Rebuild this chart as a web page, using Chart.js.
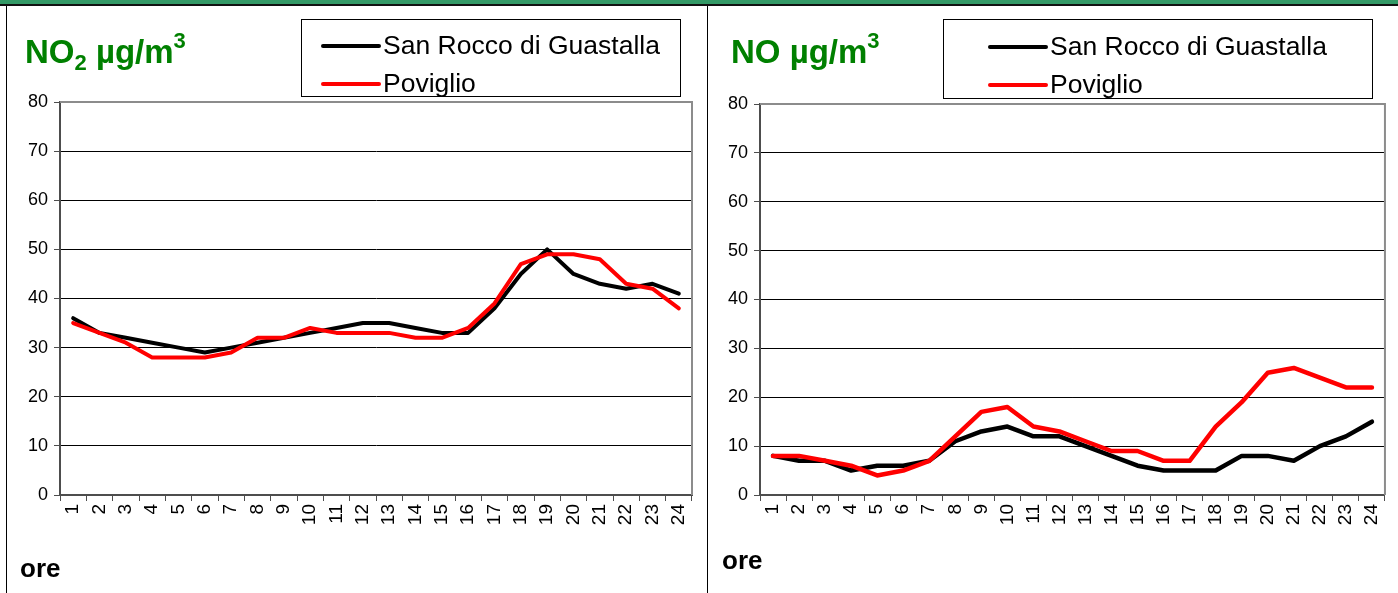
<!DOCTYPE html>
<html>
<head>
<meta charset="utf-8">
<script src="https://cdn.jsdelivr.net/npm/chart.js@4.4.1/dist/chart.umd.min.js"></script>
<style>
  body { margin: 0; background: #fff; width: 1398px; height: 593px; overflow: hidden; position: relative; }
  #band { position: absolute; left: 0; top: 0; width: 1398px; height: 4px; background: #339966; border-bottom: 2px solid #111; }
  .panel { position: absolute; top: 6px; height: 587px; }
  #p1 { left: 6px; width: 700px; border-left: 1px solid #000; border-right: 1px solid #000; }
  #p2 { left: 707px; width: 691px; }
</style>
</head>
<body>
<div id="band"></div>
<div class="panel" id="p1"><canvas id="no2Chart"></canvas></div>
<div class="panel" id="p2"><canvas id="noChart"></canvas></div>
<script>
var ore = ['1','2','3','4','5','6','7','8','9','10','11','12','13','14','15','16','17','18','19','20','21','22','23','24'];
var stazioni = ['San Rocco di Guastalla', 'Poviglio'];
var yTicks = [0, 10, 20, 30, 40, 50, 60, 70, 80];

var no2SanRocco = [36,33,32,31,30,29,30,31,32,33,34,35,35,34,33,33,38,45,50,45,43,42,43,41];
var no2Poviglio = [35,33,31,28,28,28,29,32,32,34,33,33,33,32,32,34,39,47,49,49,48,43,42,38];
var noSanRocco = [8,7,7,5,6,6,7,11,13,14,12,12,10,8,6,5,5,5,8,8,7,10,12,15];
var noPoviglio = [8,8,7,6,4,5,7,12,17,18,14,13,11,9,9,7,7,14,19,25,26,24,22,22];

var FONT = '"Liberation Sans", Arial, sans-serif';

// title, legend box, "ore" and plot border
var panelText = {
  id: 'panelText',
  afterDraw: function(chart, args, opts) {
    var ctx = chart.ctx;
    var a = chart.chartArea;
    ctx.save();
    // plot area border top / right
    ctx.strokeStyle = '#8c8c8c';
    ctx.lineWidth = 2;
    ctx.beginPath();
    ctx.moveTo(a.left, a.top);
    ctx.lineTo(a.right, a.top);
    ctx.lineTo(a.right, a.bottom);
    ctx.stroke();

    // title
    ctx.fillStyle = '#008000';
    ctx.textBaseline = 'alphabetic';
    var x = opts.titleX, y = opts.titleY;
    for (var i = 0; i < opts.title.length; i++) {
      var part = opts.title[i];
      ctx.font = 'bold ' + part.size + 'px ' + FONT;
      ctx.fillText(part.t, x, y + (part.dy || 0));
      x += ctx.measureText(part.t).width;
    }

    // legend
    var lg = opts.legend;
    ctx.strokeStyle = '#000';
    ctx.lineWidth = 1;
    ctx.strokeRect(lg.x + 0.5, lg.y + 0.5, lg.w, lg.h);
    ctx.font = '26.5px ' + FONT;
    ctx.textBaseline = 'middle';
    chart.data.datasets.forEach(function(ds, k) {
      var ly = lg.y + lg.row0 + k * lg.rowGap;
      ctx.strokeStyle = ds.borderColor;
      ctx.lineWidth = 4;
      ctx.lineCap = 'round';
      ctx.beginPath();
      ctx.moveTo(lg.x + lg.lineX, ly);
      ctx.lineTo(lg.x + lg.lineX + 56, ly);
      ctx.stroke();
      ctx.fillStyle = '#000';
      ctx.fillText(ds.label, lg.x + lg.lineX + 60, ly + 1);
    });

    // axis name
    ctx.font = 'bold 26px ' + FONT;
    ctx.textBaseline = 'alphabetic';
    ctx.fillStyle = '#000';
    ctx.fillText('ore', opts.oreX, opts.oreY);
    ctx.restore();
  }
};

function makeChart(id, sr, pv, lw, pad, title, titleX, legend, oreX, oreY) {
  return new Chart(document.getElementById(id).getContext('2d'), {
    type: 'line',
    data: {
      labels: ore,
      datasets: [
        { label: stazioni[0], data: sr, borderColor: '#000000', borderWidth: lw, order: 1 },
        { label: stazioni[1], data: pv, borderColor: '#ff0000', borderWidth: lw, order: 0 }
      ]
    },
    options: {
      responsive: true,
      maintainAspectRatio: false,
      animation: false,
      elements: {
        point: { radius: 0 },
        line: { tension: 0, borderJoinStyle: 'round', borderCapStyle: 'round' }
      },
      layout: { padding: pad },
      plugins: {
        legend: { display: false },
        title: { display: false },
        tooltip: { enabled: false },
        panelText: {
          title: title, titleX: titleX, titleY: 57,
          legend: legend, oreX: oreX, oreY: oreY
        }
      },
      scales: {
        x: {
          offset: true,
          afterFit: function(s) { s.height = 98; },
          grid: { display: true, offset: true, drawOnChartArea: false, drawTicks: true, tickLength: 6, color: '#4d4d4d', lineWidth: 1 },
          border: { display: true, color: '#4d4d4d', width: 2 },
          ticks: { autoSkip: false, minRotation: 90, maxRotation: 90, color: '#000', font: { family: FONT, size: 19 }, padding: 3 }
        },
        y: {
          min: 0, max: 80,
          afterFit: function(s) { s.width = 53; },
          afterBuildTicks: function(s) { s.ticks = yTicks.map(function(v) { return { value: v }; }); },
          grid: {
            color: function(c) { return (c.tick && (c.tick.value === 0 || c.tick.value === 80)) ? 'rgba(0,0,0,0)' : '#000'; },
            tickColor: '#4d4d4d', tickLength: 6, lineWidth: 1
          },
          border: { display: true, color: '#4d4d4d', width: 2 },
          ticks: { color: '#000', font: { family: FONT, size: 18 }, padding: 6 }
        }
      }
    },
    plugins: [panelText]
  });
}

makeChart('no2Chart', no2SanRocco, no2Poviglio, 4,
  { left: 0, right: 15, top: 96, bottom: 0 },
  [{ t: 'NO', size: 33 }, { t: '2', size: 22, dy: 7 }, { t: ' \u00b5g/m', size: 33 }, { t: '3', size: 22, dy: -15 }],
  18,
  { x: 294, y: 13, w: 379, h: 77, row0: 27, rowGap: 38, lineX: 22 },
  13, 571);

makeChart('noChart', noSanRocco, noPoviglio, 4.5,
  { left: 0, right: 13, top: 98, bottom: 0 },
  [{ t: 'NO \u00b5g/m', size: 33 }, { t: '3', size: 22, dy: -15 }],
  24,
  { x: 236, y: 13, w: 429, h: 79, row0: 28, rowGap: 38, lineX: 47 },
  15, 563);
</script>
</body>
</html>
